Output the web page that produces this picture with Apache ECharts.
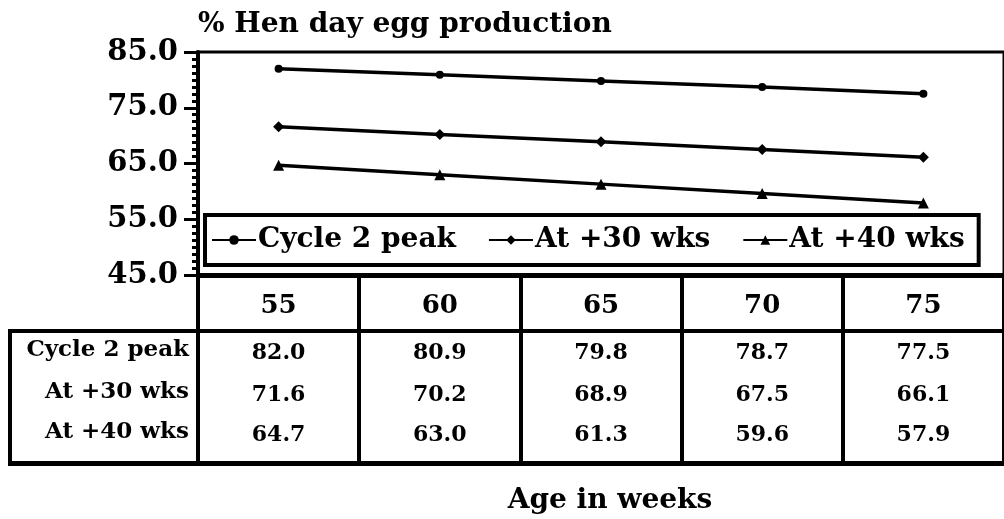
<!DOCTYPE html>
<html>
<head>
<meta charset="utf-8">
<script src="https://cdn.jsdelivr.net/npm/echarts@6/dist/echarts.min.js"></script>
<style>
  html, body { margin: 0; padding: 0; background: #fff; }
  #main { width: 1004px; height: 519px; }
</style>
</head>
<body>
<div id="main"></div>
<script>
// 数据
var ages = ['55', '60', '65', '70', '75'];
var seriesNames = ['Cycle 2 peak', 'At +30 wks', 'At +40 wks'];
var cycle2Peak = [82.0, 80.9, 79.8, 78.7, 77.5];
var at30wks = [71.6, 70.2, 68.9, 67.5, 66.1];
var at40wks = [64.7, 63.0, 61.3, 59.6, 57.9];
var yTicks = [45, 55, 65, 75, 85];

var FONT = '"DejaVu Serif", "Liberation Serif", serif';
var myChart = echarts.init(document.getElementById('main'));

var rows = [cycle2Peak, at30wks, at40wks];
var rowY = [353, 395, 435]; // 表格每行中心
var gridBottom = 275;

// 表格数值：每行一个类目轴
var tableAxes = rows.map(function (vals, i) {
    return {
        type: 'category',
        gridIndex: 0,
        data: ages,
        position: 'bottom',
        offset: rowY[i] - gridBottom,
        axisLine: { show: false },
        axisTick: { show: false },
        axisLabel: {
            margin: 0,
            verticalAlign: 'middle',
            fontFamily: FONT,
            fontWeight: 'bold',
            fontSize: 22,
            color: '#000',
            formatter: function (v, idx) { return vals[idx].toFixed(1); }
        }
    };
});

var symbols = ['circle', 'diamond', 'triangle'];
var symSizes = [8, 11, 11];

var option = {
    backgroundColor: '#fff',
    animation: false,
    title: [
        {
            text: '% Hen day egg production',
            left: 193, top: 6,
            textStyle: { fontFamily: FONT, fontWeight: 'bold', fontSize: 28, color: '#000' }
        },
        {
            text: 'Age in weeks',
            left: 605, top: 482, textAlign: 'center',
            textStyle: { fontFamily: FONT, fontWeight: 'bold', fontSize: 28, color: '#000' }
        }
    ],
    legend: {
        left: 205, top: 215,
        width: 820,
        padding: [11, 14, 11, 6],
        backgroundColor: '#fff',
        borderColor: '#000',
        borderWidth: 4,
        borderRadius: 0,
        itemWidth: 44,
        itemHeight: 12,
        itemGap: 32,
        textStyle: { fontFamily: FONT, fontWeight: 'bold', fontSize: 28, color: '#000', padding: [0, 0, 0, -3] },
        data: seriesNames
    },
    grid: [
        { left: 198, top: 52, width: 815, height: 223, show: true, borderColor: '#000', borderWidth: 3 },
        { left: 198, top: 275, width: 815, height: 188 }
    ],
    xAxis: [
        {
            type: 'category',
            gridIndex: 0,
            data: ages,
            boundaryGap: true,
            axisLine: { lineStyle: { color: '#000', width: 5 } },
            axisTick: { alignWithLabel: true, length: 13, lineStyle: { color: '#000', width: 3 } },
            axisLabel: {
                margin: 18,
                fontFamily: FONT, fontWeight: 'bold', fontSize: 26, color: '#000'
            }
        },
        {
            type: 'category',
            gridIndex: 1,
            data: ages,
            boundaryGap: true,
            axisLine: { lineStyle: { color: '#000', width: 5 } },
            axisTick: { show: false },
            axisLabel: { show: false },
            splitLine: { show: true, lineStyle: { color: '#000', width: 4 } }
        }
    ].concat(tableAxes),
    yAxis: [
        {
            type: 'value',
            gridIndex: 0,
            min: yTicks[0], max: yTicks[yTicks.length - 1], interval: 10,
            axisLine: { show: true, lineStyle: { color: '#000', width: 4 } },
            axisTick: { show: true, length: 14, lineStyle: { color: '#000', width: 3 } },
            minorTick: { show: true, splitNumber: 8, length: 6, lineStyle: { color: '#000', width: 3 } },
            splitLine: { show: false },
            axisLabel: {
                margin: 20,
                fontFamily: FONT, fontWeight: 'bold', fontSize: 29, color: '#000',
                formatter: function (v) { return v.toFixed(1); }
            }
        },
        { type: 'value', gridIndex: 1, show: false }
    ],
    series: rows.map(function (vals, i) {
        return {
            name: seriesNames[i],
            type: 'line',
            xAxisIndex: 0,
            yAxisIndex: 0,
            data: vals,
            symbol: symbols[i],
            symbolSize: symSizes[i],
            showSymbol: true,
            itemStyle: { color: '#000' },
            lineStyle: { color: '#000', width: 3.5 }
        };
    }),
    graphic: [
        // 表格的水平线和左边框
        { type: 'rect', shape: { x: 8, y: 329, width: 1000, height: 4 }, style: { fill: '#000' } },
        { type: 'rect', shape: { x: 8, y: 461, width: 192, height: 5 }, style: { fill: '#000' } },
        { type: 'rect', shape: { x: 8, y: 329, width: 4, height: 137 }, style: { fill: '#000' } },
        { type: 'text', right: 1004 - 189, top: rowY[0] - 14, style: { text: 'Cycle 2 peak', font: 'bold 23px ' + FONT, fill: '#000', textAlign: 'right' } },
        { type: 'text', right: 1004 - 189, top: rowY[1] - 14, style: { text: 'At +30 wks', font: 'bold 23px ' + FONT, fill: '#000', textAlign: 'right' } },
        { type: 'text', right: 1004 - 189, top: rowY[2] - 14, style: { text: 'At +40 wks', font: 'bold 23px ' + FONT, fill: '#000', textAlign: 'right' } }
    ]
};

myChart.setOption(option);
</script>
</body>
</html>
